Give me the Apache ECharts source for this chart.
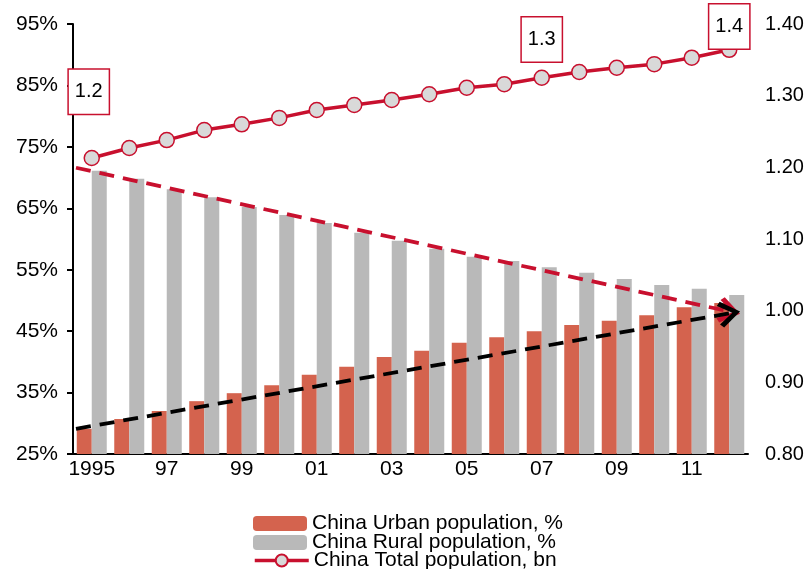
<!DOCTYPE html>
<html>
<head>
<meta charset="utf-8">
<script src="https://cdn.jsdelivr.net/npm/echarts@6/dist/echarts.min.js"></script>
<style>
  html, body { margin: 0; padding: 0; background: #fff; }
  #chart { width: 807px; height: 569px; }
</style>
</head>
<body>
<div id="chart"></div>
<script>
// data
const years = ['1995', '1996', '1997', '1998', '1999', '2000', '2001', '2002', '2003',
    '2004', '2005', '2006', '2007', '2008', '2009', '2010', '2011', '2012'];
const yearLabels = ['1995', '96', '97', '98', '99', '00', '01', '02', '03',
    '04', '05', '06', '07', '08', '09', '10', '11', '12'];
const urbanPct = [29.1, 30.7, 32.0, 33.6, 34.9, 36.2, 37.9, 39.2, 40.8,
    41.8, 43.1, 44.0, 45.0, 46.0, 46.7, 47.6, 48.9, 49.6];
const ruralPct = [71.1, 69.8, 68.1, 66.8, 65.2, 63.9, 62.6, 61.0, 59.7,
    58.4, 57.1, 56.4, 55.4, 54.5, 53.5, 52.5, 51.9, 50.9];
const totalBn = [1.213, 1.227, 1.238, 1.252, 1.260, 1.269, 1.280, 1.287, 1.294,
    1.302, 1.311, 1.316, 1.325, 1.333, 1.339, 1.344, 1.353, 1.364];
// boxed callouts on the total line: [index, text]
const callouts = [[0, '1.2'], [12, '1.3'], [17, '1.4']];
// trend arrows, [x (category index), y (%)]
const ruralTrend = [[-0.42, 71.6], [17.0, 48.2]];
const urbanTrend = [[-0.42, 29.1], [17.0, 47.9]];
const seriesNames = ['China Urban population, %', 'China Rural population, %', 'China Total population, bn'];

const FONT = "'Liberation Sans', Arial, sans-serif";
const CRIMSON = '#C8102E';
const chevron = 'path://M10,0 L20,13 L17.2,15.5 L10,5.5 L2.8,15.5 L0,13 Z';

// per-callout label distance above the marker
const calloutDist = {0: 36, 12: 8, 17: -7};

const totalData = totalBn.map((v, i) => {
    const c = callouts.find(c => c[0] === i);
    if (!c) return v;
    return {
        value: v,
        label: {
            show: true,
            position: 'top',
            distance: calloutDist[i],
            offset: [i === 0 ? -3 : 0, 0],
            formatter: c[1],
            color: '#000',
            fontSize: 20,
            fontFamily: FONT,
            lineHeight: 22,
            backgroundColor: '#fff',
            borderColor: CRIMSON,
            borderWidth: 1.5,
            padding: [11, 6]
        }
    };
});

function trendLine(name, pts, color) {
    return {
        name: name,
        type: 'line',
        xAxisIndex: 1,
        yAxisIndex: 0,
        data: pts,
        showSymbol: false,
        silent: true,
        lineStyle: {opacity: 0},
        z: 5,
        markLine: {
            silent: true,
            animation: false,
            symbol: ['none', chevron],
            symbolSize: [26, 22],
            label: {show: false},
            lineStyle: {color: color, width: 3.8, type: [15, 9]},
            data: [[{coord: pts[0]}, {coord: pts[1]}]]
        }
    };
}

// one legend per row, stacked tightly like the original
const legendTops = [513, 532, 550];
const legends = seriesNames.map((name, i) => ({
    data: [name],
    left: 253,
    top: legendTops[i],
    padding: 0,
    itemWidth: 54,
    itemHeight: 15,
    lineStyle: {width: 3.5},
    textStyle: {fontSize: 21, lineHeight: 15, color: '#000', fontFamily: FONT}
}));

const chart = echarts.init(document.getElementById('chart'));
chart.setOption({
    animation: false,
    textStyle: {fontFamily: FONT},
    grid: {left: 73, right: 59, top: 24, bottom: 115},
    legend: legends,
    xAxis: [{
        type: 'category',
        data: years,
        boundaryGap: true,
        axisLine: {lineStyle: {color: '#000', width: 2}},
        axisTick: {interval: 0, length: 6, lineStyle: {color: '#000', width: 2}},
        axisLabel: {
            interval: 1,
            margin: 5,
            fontSize: 21,
            color: '#000',
            fontFamily: FONT,
            formatter: (v, i) => yearLabels[i]
        }
    }, {
        type: 'value',
        min: -0.5,
        max: 17.5,
        show: false
    }],
    yAxis: [{
        type: 'value',
        min: 25,
        max: 95,
        interval: 10,
        axisLine: {show: true, onZero: false, lineStyle: {color: '#000', width: 2}},
        axisTick: {show: true, length: 6, lineStyle: {color: '#000', width: 2}},
        splitLine: {show: false},
        axisLabel: {formatter: '{value}%', fontSize: 21, color: '#000', margin: 15, fontFamily: FONT}
    }, {
        type: 'value',
        min: 0.8,
        max: 1.4,
        interval: 0.1,
        axisLine: {show: false, onZero: false},
        axisTick: {show: false},
        splitLine: {show: false},
        axisLabel: {formatter: v => v.toFixed(2), fontSize: 20, color: '#000', margin: 17, fontFamily: FONT}
    }],
    series: [
        {
            name: seriesNames[0],
            type: 'bar',
            data: urbanPct,
            barWidth: 15,
            barGap: '0%',
            itemStyle: {color: '#D4634E'}
        },
        {
            name: seriesNames[1],
            type: 'bar',
            data: ruralPct,
            barWidth: 15,
            barGap: '0%',
            itemStyle: {color: '#B9B9B9'}
        },
        trendLine('rural trend', ruralTrend, CRIMSON),
        trendLine('urban trend', urbanTrend, '#000'),
        {
            name: seriesNames[2],
            type: 'line',
            yAxisIndex: 1,
            data: totalData,
            symbol: 'circle',
            symbolSize: 15,
            z: 10,
            lineStyle: {color: CRIMSON, width: 3.5},
            itemStyle: {color: '#D9D9D9', borderColor: CRIMSON, borderWidth: 1.5}
        }
    ]
});
</script>
</body>
</html>
